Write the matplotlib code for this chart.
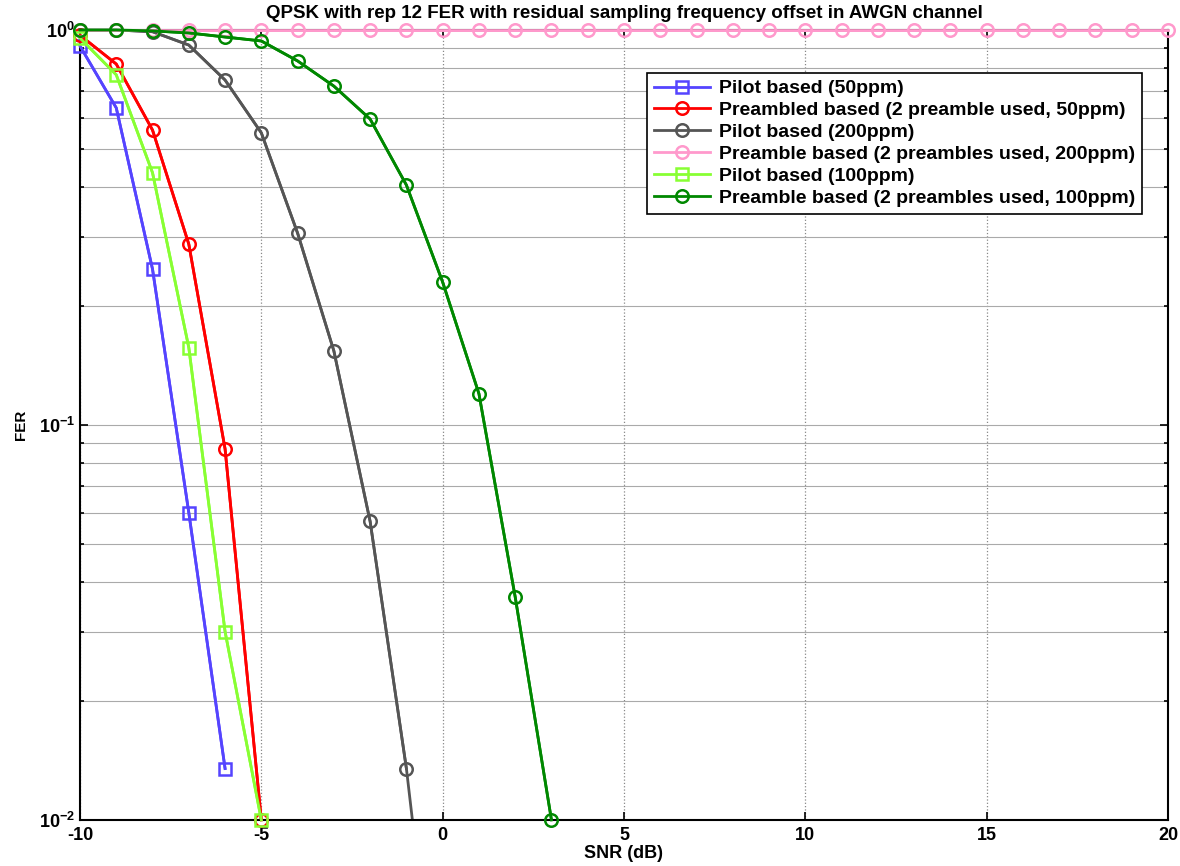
import numpy as np
import matplotlib
matplotlib.use("Agg")
import matplotlib.pyplot as plt
from matplotlib.ticker import LogLocator, NullFormatter

plt.rcParams['font.family'] = ['Liberation Sans', 'DejaVu Sans']
plt.rcParams['font.weight'] = 'bold'
plt.rcParams['axes.unicode_minus'] = False
plt.rcParams['mathtext.default'] = 'bf'

# Data
snr_pilot50 = [-10, -9, -8, -7, -6]
fer_pilot50 = [0.911, 0.635, 0.248, 0.060, 0.0135]

snr_pre50 = [-10, -9, -8, -7, -6, -5]
fer_pre50 = [0.97, 0.82, 0.558, 0.287, 0.087, 0.01]

snr_pilot200 = [-10, -9, -8, -7, -6, -5, -4, -3, -2, -1, 0]
fer_pilot200 = [1.0, 1.0, 0.99, 0.916, 0.747, 0.549, 0.306, 0.154, 0.057, 0.0135, 0.0022]

snr_pre200 = list(range(-10, 21))
fer_pre200 = [1.0] * 31

snr_pilot100 = [-10, -9, -8, -7, -6, -5]
fer_pilot100 = [0.954, 0.77, 0.435, 0.157, 0.030, 0.01]

snr_pre100 = [-10, -9, -8, -7, -6, -5, -4, -3, -2, -1, 0, 1, 2, 3]
fer_pre100 = [1.0, 1.0, 0.995, 0.983, 0.96, 0.938, 0.835, 0.721, 0.595, 0.405, 0.230, 0.120, 0.0367, 0.01]

labels = ['Pilot based (50ppm)',
          'Preambled based (2 preamble used, 50ppm)',
          'Pilot based (200ppm)',
          'Preamble based (2 preambles used, 200ppm)',
          'Pilot based (100ppm)',
          'Preamble based (2 preambles used, 100ppm)']

fig = plt.figure(figsize=(11.8, 8.66), dpi=100)
ax = fig.add_axes([80/1180, 46/866, 1088/1180, 790/866])

ymin, ymax = 0.01, 1.0
lw = 2.0
ms = 9
mew = 1.8
series = [
    (snr_pilot50, fer_pilot50, '#5544ff', 's', labels[0]),
    (snr_pre50, fer_pre50, '#ff0000', 'o', labels[1]),
    (snr_pilot200, fer_pilot200, '#555555', 'o', labels[2]),
    (snr_pre200, fer_pre200, '#ff99cc', 'o', labels[3]),
    (snr_pilot100, fer_pilot100, '#88ff33', 's', labels[4]),
    (snr_pre100, fer_pre100, '#008800', 'o', labels[5]),
]
for x, y, c, m, lab in series:
    x = np.asarray(x, float)
    y = np.asarray(y, float)
    # full line, clipped to axes
    ax.semilogy(x, y, color=c, linewidth=lw, clip_on=True)
    # in-range part with markers, not clipped so edge markers show whole
    inr = (y >= ymin * 0.999) & (y <= ymax * 1.001)
    ax.semilogy(x[inr], y[inr], color=c, marker=m, markersize=ms, markerfacecolor='none',
                markeredgecolor=c, markeredgewidth=mew, linewidth=lw, label=lab,
                clip_on=False, zorder=3)

ax.set_xlim(-10, 20)
ax.set_ylim(ymin, ymax)
ax.set_xticks([-10, -5, 0, 5, 10, 15, 20])
ax.yaxis.set_major_locator(LogLocator(base=10, numticks=10))
ax.yaxis.set_minor_locator(LogLocator(base=10, subs=np.arange(2, 10), numticks=10))
ax.yaxis.set_minor_formatter(NullFormatter())

ax.grid(True, which='major', axis='x', color='#888888', linestyle=':', linewidth=0.9)
ax.grid(True, which='both', axis='y', color='#aaaaaa', linestyle='-', linewidth=0.8)
ax.set_axisbelow(True)

ax.tick_params(axis='both', which='both', direction='in', top=True, right=True,
               labelsize=13, width=1.2)
ax.tick_params(axis='both', which='major', length=6)
ax.tick_params(axis='x', which='major', pad=5)
ax.tick_params(axis='y', which='minor', length=3)
for lab in ax.get_xticklabels() + ax.get_yticklabels():
    lab.set_fontweight('bold')
for sp in ax.spines.values():
    sp.set_linewidth(1.5)

ax.set_xlabel('SNR (dB)', fontsize=13, fontweight='bold', labelpad=1)
ax.set_ylabel('FER', fontsize=11, fontweight='bold', labelpad=8)
ax.set_title('QPSK with rep 12 FER with residual sampling frequency offset in AWGN channel',
             fontsize=13.5, fontweight='bold', pad=9)

leg = ax.legend(loc='upper right', fontsize=14, frameon=True, fancybox=False,
                edgecolor='black', framealpha=1, handlelength=2.9, handletextpad=0.45,
                borderpad=0.35, labelspacing=0.22, borderaxespad=0)
leg.set_bbox_to_anchor((1142/1180, (866-73)/866), transform=fig.transFigure)
leg.get_frame().set_linewidth(1.2)
for t in leg.get_texts():
    t.set_fontweight('bold')

fig.savefig('out.png', dpi=100)
